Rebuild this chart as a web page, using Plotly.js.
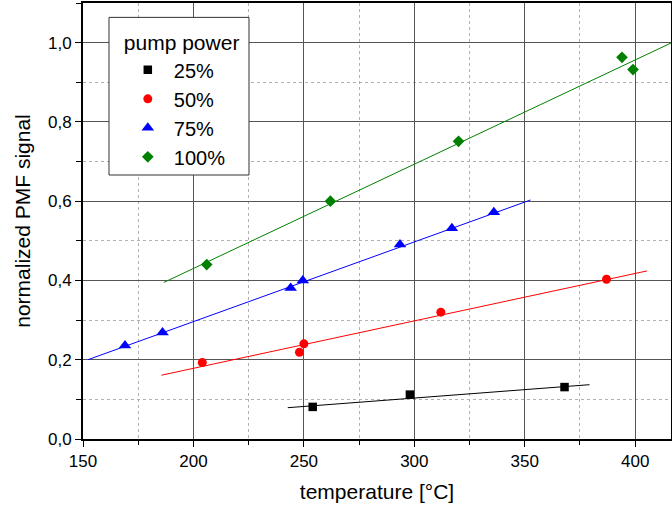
<!DOCTYPE html>
<html>
<head>
<meta charset="utf-8">
<script src="https://cdn.plot.ly/plotly-3.0.1.min.js"></script>
<style>html,body{margin:0;padding:0;background:#fff;}#chart{width:672px;height:510px;}</style>
</head>
<body>
<div id="chart"></div>
<script>
// Measured data (temperature in °C, normalized PMF signal)
const seriesNames = ['25%', '50%', '75%', '100%'];
const seriesColors = ['#000000', '#ff0000', '#0000ff', '#008000'];
const seriesSymbols = ['square', 'circle', 'triangle-up', 'diamond'];
const seriesSizes = [8.5, 9, 11, 9];

const t25 = [254, 298, 368];
const s25 = [0.081, 0.112, 0.131];
const t50 = [204, 248, 250, 312, 387];
const s50 = [0.193, 0.219, 0.240, 0.320, 0.403];
const t75 = [169, 186, 244, 249.5, 293.5, 317, 336];
const s75 = [0.236, 0.269, 0.381, 0.400, 0.491, 0.532, 0.572];
const t100 = [206, 262, 320, 394, 399];
const s100 = [0.440, 0.600, 0.751, 0.963, 0.932];

// Linear fit lines (endpoints)
const fitT25 = [242.7, 379.3];
const fitS25 = [0.079, 0.137];
const fitT50 = [185.5, 405.3];
const fitS50 = [0.161, 0.424];
const fitT75 = [152.2, 352.6];
const fitS75 = [0.200, 0.603];
const fitT100 = [186.6, 420];
const fitS100 = [0.395, 1.009];

const xs = [t25, t50, t75, t100];
const ys = [s25, s50, s75, s100];
const fxs = [fitT25, fitT50, fitT75, fitT100];
const fys = [fitS25, fitS50, fitS75, fitS100];

const FONT = '"Liberation Sans", Arial, sans-serif';
const traces = [];
for (let i = 0; i < 4; i++) {
  traces.push({
    x: fxs[i], y: fys[i], type: 'scatter', mode: 'lines',
    line: {color: seriesColors[i], width: 1}, showlegend: false, hoverinfo: 'skip'
  });
}
for (let i = 0; i < 4; i++) {
  traces.push({
    x: xs[i], y: ys[i], type: 'scatter', mode: 'markers', name: seriesNames[i],
    marker: {color: seriesColors[i], symbol: seriesSymbols[i], size: seriesSizes[i]}
  });
}

const X_RANGE = [150, 416.2];
const Y_RANGE = [0, 1.1];
const gridMajor = '#555555';
const gridMinor = '#b0b0b0';
const layout = {
  width: 672, height: 510,
  margin: {l: 83, r: 1, t: 3, b: 71},
  paper_bgcolor: '#fff', plot_bgcolor: '#fff',
  separators: ',.',
  font: {family: FONT, size: 17, color: '#000'},
  showlegend: true,
  legend: {
    x: 0.066, y: 0.954, xanchor: 'left', yanchor: 'top',
    bgcolor: 'rgba(0,0,0,0)', borderwidth: 0,
    itemwidth: 42,
    font: {family: FONT, size: 20, color: '#000'},
    title: {text: 'pump power', font: {family: FONT, size: 21, color: '#000'}},
    traceorder: 'normal'
  },
  shapes: [{
    type: 'rect', xref: 'paper', yref: 'paper',
    x0: 0.0442, x1: 0.2823, y0: 0.6055, y1: 0.967,
    line: {color: '#333', width: 1}, fillcolor: '#fff', layer: 'above'
  }],
  xaxis: {
    range: X_RANGE, dtick: 50, tick0: 150,
    showline: true, linecolor: '#000', linewidth: 2, mirror: true,
    ticks: 'outside', ticklen: 6, tickwidth: 1, tickcolor: '#000',
    showgrid: true, gridcolor: gridMajor, gridwidth: 1, zeroline: false,
    minor: {dtick: 25, ticks: 'outside', ticklen: 4, tickcolor: '#000', showgrid: true, gridcolor: gridMinor, griddash: 'dot', gridwidth: 1},
    title: {text: 'temperature [°C]', font: {family: FONT, size: 21}, standoff: 14}
  },
  yaxis: {
    range: Y_RANGE, dtick: 0.2, tick0: 0, tickformat: '.1f',
    showline: true, linecolor: '#000', linewidth: 2, mirror: true,
    ticks: 'outside', ticklen: 6, tickwidth: 1, tickcolor: '#000',
    showgrid: true, gridcolor: gridMajor, gridwidth: 1, zeroline: false,
    minor: {dtick: 0.1, ticks: 'outside', ticklen: 5, tickcolor: '#000', showgrid: true, gridcolor: gridMinor, griddash: 'dot', gridwidth: 1},
    title: {text: 'normalized PMF signal', font: {family: FONT, size: 21}, standoff: 12}
  },
  xaxis2: {
    overlaying: 'x', anchor: 'y', side: 'top', range: X_RANGE, dtick: 50, tick0: 150,
    showline: false, showgrid: false, zeroline: false, showticklabels: false,
    ticks: 'inside', ticklen: 5, tickwidth: 1, tickcolor: '#000',
    minor: {dtick: 25, ticks: 'inside', ticklen: 3, tickcolor: '#000', showgrid: false}
  },
  yaxis2: {
    overlaying: 'y', anchor: 'x', side: 'right', range: Y_RANGE, dtick: 0.2, tick0: 0,
    showline: false, showgrid: false, zeroline: false, showticklabels: false,
    ticks: 'inside', ticklen: 5, tickwidth: 1, tickcolor: '#000',
    minor: {dtick: 0.1, ticks: 'inside', ticklen: 3, tickcolor: '#000', showgrid: false}
  }
};

Plotly.newPlot('chart', traces, layout, {staticPlot: true, displayModeBar: false});
</script>
</body>
</html>
